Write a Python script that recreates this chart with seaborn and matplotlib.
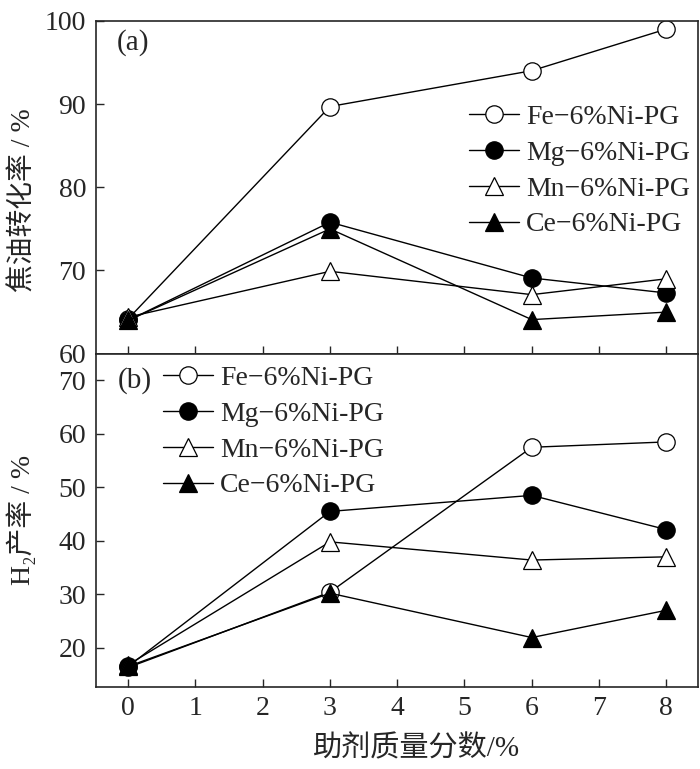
import numpy as np
import pandas as pd
import seaborn as sns
import matplotlib
matplotlib.use("Agg")
import matplotlib.pyplot as plt

sns.set_style("ticks")
plt.rcParams['font.family'] = ['Liberation Serif', 'DejaVu Serif', 'Noto Sans CJK SC']
plt.rcParams['axes.unicode_minus'] = True

# 数据
x = [0, 3, 6, 8]
series = ['Fe\u22126%Ni-PG', 'Mg\u22126%Ni-PG', 'Mn\u22126%Ni-PG', 'Ce\u22126%Ni-PG']
tar_fe = [64.2, 89.7, 94.0, 99.0]
tar_mg = [64.0, 75.8, 69.1, 67.3]
tar_mn = [64.4, 69.9, 67.1, 69.0]
tar_ce = [64.0, 75.0, 64.1, 65.0]
h2_fe = [16.3, 30.4, 57.5, 58.5]
h2_mg = [16.5, 45.5, 48.5, 42.1]
h2_mn = [16.8, 39.8, 36.4, 37.0]
h2_ce = [16.5, 30.2, 21.9, 27.0]

styles = {
    series[0]: dict(marker='o', markerfacecolor='white'),
    series[1]: dict(marker='o', markerfacecolor='black'),
    series[2]: dict(marker='^', markerfacecolor='white'),
    series[3]: dict(marker='^', markerfacecolor='black'),
}

fig, axes = plt.subplots(nrows=2, ncols=1, sharex=True, figsize=(7, 7.69), dpi=100)
fig.subplots_adjust(left=0.137, right=0.997, top=0.973, bottom=0.107, hspace=0)


def draw(ax, values):
    for name, vals in zip(series, values):
        sns.lineplot(x=x, y=vals, ax=ax, color='black', linewidth=1.0,
                     markersize=12.5, markeredgewidth=0.9, markeredgecolor='black',
                     label=name, sort=False, estimator=None, **styles[name])


draw(axes[0], [tar_fe, tar_mg, tar_mn, tar_ce])
draw(axes[1], [h2_fe, h2_mg, h2_mn, h2_ce])

for ax in axes:
    ax.tick_params(direction='in', length=6, width=1, labelsize=20, pad=7)
    for s in ax.spines.values():
        s.set_linewidth(1.2)
        s.set_visible(True)
    ax.set_xlim(-0.48, 8.47)

axes[0].set_ylim(60, 100)
axes[0].set_yticks([60, 70, 80, 90, 100])
axes[1].set_ylim(12.7, 75)
axes[1].set_yticks([20, 30, 40, 50, 60, 70])
axes[1].set_xticks(range(9))

axes[0].set_ylabel('焦油转化率 / %', fontsize=20)
axes[1].set_ylabel('H\u2082产率 / %', fontsize=20)
axes[0].yaxis.set_label_coords(-0.099, 0.462)
axes[1].yaxis.set_label_coords(-0.099, 0.5)
axes[1].set_xlabel('助剂质量分数/%', fontsize=21)
axes[1].xaxis.set_label_coords(0.533, -0.145)

axes[0].text(0.035, 0.934, '(a)', transform=axes[0].transAxes, fontsize=21, va='center')
axes[1].text(0.037, 0.919, '(b)', transform=axes[1].transAxes, fontsize=21, va='center')

legend_kw = dict(loc='upper left', frameon=False, fontsize=20, borderpad=0, borderaxespad=0,
                 handlelength=1.8, handletextpad=0.25, labelspacing=0.37)
axes[0].legend(bbox_to_anchor=(0.62, 0.748), **legend_kw)
axes[1].legend(bbox_to_anchor=(0.112, 0.964), **legend_kw)

plt.savefig('out.png', dpi=100)
